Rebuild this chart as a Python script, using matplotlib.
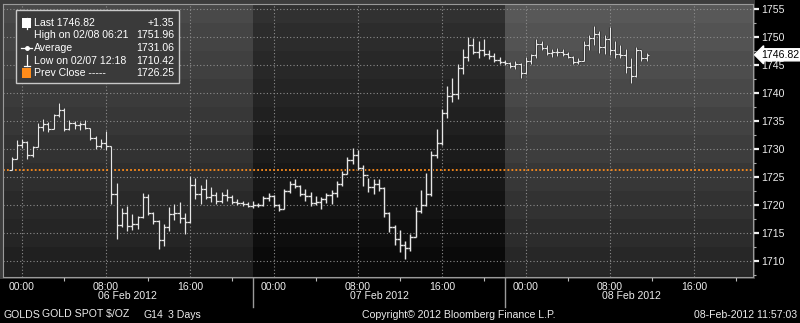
import matplotlib.pyplot as plt
import matplotlib.transforms as mtransforms
import numpy as np
from matplotlib.lines import Line2D
from matplotlib.patches import Rectangle

plt.rcParams['font.family'] = ['Liberation Sans', 'DejaVu Sans']

# GOLDS 30-min bars, hours counted from 06 Feb 2012 00:00
bar_hours = np.arange(-1.0, 59.75, 0.5)
high = [1728.5, 1731.6, 1731.8, 1731.4, 1730.6, 1734.6, 1735.4, 1734.8, 1736.2, 1738.2,
        1737.4, 1735.2, 1735.0, 1734.8, 1735.1, 1733.8, 1732.4, 1731.8, 1733.2, 1730.6,
        1724.0, 1719.5, 1719.8, 1718.4, 1718.0, 1722.1, 1722.0, 1718.8, 1717.4, 1716.6,
        1719.6, 1720.2, 1720.6, 1718.5, 1725.2, 1724.8, 1723.6, 1724.6, 1723.2, 1722.4,
        1722.3, 1722.8, 1721.8, 1721.0, 1720.8, 1720.6, 1720.7, 1720.4, 1721.6, 1722.1,
        1721.8, 1720.2, 1722.8, 1724.3, 1724.6, 1723.6, 1722.8, 1722.3, 1721.6, 1721.4,
        1722.1, 1722.6, 1724.2, 1726.0, 1728.6, 1730.2, 1729.8, 1727.2, 1724.9, 1724.6,
        1724.6, 1723.2, 1718.8, 1716.4, 1715.6, 1713.6, 1714.8, 1719.6, 1722.6, 1725.8,
        1729.6, 1733.6, 1737.2, 1741.2, 1742.6, 1745.2, 1747.8, 1750.0, 1749.8, 1749.3,
        1749.6, 1747.6, 1747.2, 1746.5, 1745.9, 1745.6, 1745.7, 1745.4, 1746.4, 1747.0,
        1749.6, 1749.2, 1748.6, 1747.8, 1748.0, 1747.9, 1747.4, 1746.6, 1746.3, 1749.2,
        1750.4, 1751.96, 1751.0, 1750.4, 1751.8, 1749.3, 1748.6, 1747.8, 1746.2, 1748.2,
        1747.6, 1747.2]
low = [1726.3, 1728.2, 1730.2, 1728.3, 1728.6, 1730.4, 1733.3, 1733.0, 1733.6, 1735.8,
       1733.2, 1733.4, 1733.6, 1733.4, 1733.5, 1731.6, 1730.0, 1730.2, 1729.8, 1720.2,
       1713.9, 1716.0, 1715.4, 1715.6, 1715.8, 1717.6, 1718.2, 1716.6, 1712.1, 1712.6,
       1715.4, 1717.4, 1716.8, 1714.8, 1716.8, 1721.0, 1720.2, 1721.0, 1720.6, 1720.2,
       1720.4, 1720.8, 1720.2, 1720.0, 1719.8, 1719.6, 1719.5, 1719.6, 1719.8, 1720.8,
       1719.6, 1718.9, 1719.2, 1722.2, 1723.0, 1721.6, 1720.8, 1719.8, 1720.0, 1719.3,
       1720.4, 1720.2, 1721.4, 1723.4, 1725.6, 1727.4, 1726.2, 1723.4, 1722.4, 1722.0,
       1722.5, 1717.8, 1715.2, 1712.8, 1711.6, 1710.42, 1711.8, 1714.2, 1718.6, 1719.8,
       1721.6, 1728.4, 1730.8, 1735.6, 1738.4, 1739.0, 1743.4, 1745.8, 1747.0, 1746.3,
       1746.6, 1746.0, 1745.6, 1745.2, 1745.0, 1744.5, 1744.2, 1742.7, 1743.4, 1745.2,
       1746.3, 1747.6, 1746.8, 1746.4, 1746.6, 1746.6, 1746.3, 1745.2, 1745.2, 1745.8,
       1747.6, 1748.6, 1747.2, 1747.0, 1746.8, 1746.3, 1746.3, 1743.6, 1741.8, 1742.8,
       1745.8, 1745.8]
close = [1728.2, 1730.8, 1731.2, 1729.0, 1730.4, 1734.0, 1734.5, 1733.5, 1736.0, 1737.0,
         1733.6, 1734.6, 1734.2, 1734.4, 1733.7, 1732.0, 1730.6, 1731.0, 1730.6, 1722.0,
         1716.5, 1718.5, 1716.2, 1716.6, 1717.8, 1721.5, 1718.6, 1717.2, 1713.8, 1716.0,
         1718.4, 1718.6, 1717.6, 1717.0, 1723.6, 1722.0, 1722.8, 1721.4, 1721.8, 1720.8,
         1721.8, 1721.4, 1720.6, 1720.4, 1720.2, 1719.9, 1720.0, 1720.0, 1721.2, 1721.6,
         1720.0, 1719.2, 1722.5, 1723.8, 1723.4, 1722.0, 1721.6, 1720.4, 1720.6, 1721.0,
         1721.8, 1722.2, 1723.8, 1725.6, 1728.0, 1729.0, 1726.6, 1725.4, 1723.2, 1723.8,
         1723.0, 1718.6, 1716.0, 1714.0, 1712.8, 1712.4, 1714.2, 1719.0, 1720.0, 1722.0,
         1729.0, 1731.0, 1736.5, 1739.5, 1739.8, 1744.5, 1746.5, 1748.5, 1747.4, 1747.6,
         1747.0, 1746.6, 1745.9, 1745.6, 1745.3, 1744.8, 1745.2, 1743.6, 1745.8, 1746.7,
         1748.8, 1748.0, 1747.2, 1747.3, 1747.4, 1747.0, 1746.5, 1745.6, 1745.8, 1748.6,
         1749.8, 1750.6, 1748.2, 1749.6, 1747.6, 1747.0, 1746.8, 1744.6, 1743.0, 1747.6,
         1746.2, 1746.82]

prev_close = 1726.25
last_price = 1746.82

session_starts = [-2.0, 22.0, 46.0]
session_ends = [22.0, 46.0, 70.0]
session_dates = ['06 Feb 2012', '07 Feb 2012', '08 Feb 2012']
# background shade per session (top rgb, bottom rgb)
session_top = [(74, 74, 74), (50, 50, 50), (90, 90, 90)]
session_bottom = [(30, 30, 30), (8, 8, 8), (36, 36, 36)]

time_ticks = np.arange(0, 65, 8)
time_labels = ['00:00', '08:00', '16:00'] * 3
price_ticks = np.arange(1710, 1756, 5)

legend_rows = [('Last 1746.82', '+1.35'),
               ('High on 02/08 06:21', '1751.96'),
               ('Average', '1731.06'),
               ('Low on 02/07 12:18', '1710.42'),
               ('Prev Close -----', '1726.25')]

W, H = 800, 323
FS = 7.6
TXT = '#ececec'


def fx(x):
    return x / W


def fy(y):
    return 1 - y / H


fig = plt.figure(figsize=(8, 3.23), dpi=100, facecolor='black')
fig.add_artist(Rectangle((0, fy(279)), fx(755), 279 / H, transform=fig.transFigure,
                         facecolor='#3c3c3c', edgecolor='none', zorder=-5))
ax = fig.add_axes([fx(3), fy(277), 750 / W, 273 / H])
xmin, xmax = -1.81, 69.62
ymin, ymax = 1707.14, 1755.89

# banded vertical gradients for the three sessions
p = np.linspace(ymin, ymax, 500)
band = np.floor((p - 1707.5) / 5) * 5 + 1710
t = np.clip((band - 1707) / (1756 - 1707), 0, 1)
for s0, s1, top, bot in zip(session_starts, session_ends, session_top, session_bottom):
    top = np.array(top) / 255
    bot = np.array(bot) / 255
    img = (bot[None, :] + (top - bot)[None, :] * t[:, None])[:, None, :]
    ax.imshow(img, extent=[s0, s1, ymin, ymax], origin='lower', aspect='auto',
              interpolation='nearest', zorder=0)

ax.set_xlim(xmin, xmax)
ax.set_ylim(ymin, ymax)
ax.set_facecolor('#202020')

ax.axhline(prev_close, color='#ff8c1a', lw=1.3, linestyle=(0, (1, 1.2)), zorder=2)

opens = [close[0]] + close[:-1]
opens[0] = low[0]
for lw, col, z in [(2.2, '#151515', 2.5), (1.0, '#e6e6e6', 3)]:
    ax.vlines(bar_hours, low, high, color=col, lw=lw, zorder=z)
    ax.hlines(close, bar_hours, bar_hours + 0.25, color=col, lw=lw, zorder=z)
    ax.hlines(opens, bar_hours - 0.25, bar_hours, color=col, lw=lw, zorder=z)

ax.set_xticks(time_ticks)
ax.set_xticklabels(time_labels)
ax.set_xticks(np.arange(4, 69, 8), minor=True)
ax.tick_params(axis='x', which='major', length=0, pad=3.5, labelsize=FS, labelcolor=TXT)
ax.tick_params(axis='x', which='minor', length=3, width=0.8, color='#bbbbbb')

ax.yaxis.tick_right()
ax.set_yticks(price_ticks)
ax.set_yticks(np.arange(1707.5, 1756, 5), minor=True)
ax.tick_params(axis='y', which='major', length=4, width=1.6, color='#f0f0f0', pad=2,
               labelsize=FS, labelcolor=TXT)
ax.tick_params(axis='y', which='minor', length=2.5, width=0.8, color='#aaaaaa')

ax.grid(True, which='major', color='#8c8c8c', linestyle=(0, (1, 2)), linewidth=0.8)
for sp in ax.spines.values():
    sp.set_color('#9a9a9a')
    sp.set_linewidth(0.8)

# last price tag on the price scale
blend_y = mtransforms.blended_transform_factory(ax.transAxes, ax.transData)
ax.text(1.0105, last_price, f'{last_price:.2f}', transform=blend_y, ha='left', va='center',
        fontsize=FS, color='black', zorder=10, clip_on=False,
        bbox=dict(boxstyle='larrow,pad=0.1', fc='white', ec='white'))

# session dates and separators under the axis
blend_x = mtransforms.blended_transform_factory(ax.transData, fig.transFigure)
for s0, s1, lab in zip(session_starts, session_ends, session_dates):
    fig.text((s0 + s1) / 2, fy(296), lab, transform=blend_x, ha='center', va='center',
             fontsize=FS, color=TXT)
for s in session_starts[1:]:
    fig.add_artist(Line2D([s, s], [fy(278), fy(307)], transform=blend_x,
                          color='#9a9a9a', lw=1))

# footer
fy_foot = fy(314.5)
fig.text(fx(3), fy_foot, 'GOLDS', ha='left', va='center', fontsize=FS, color=TXT)
fig.text(fx(42), fy_foot, 'GOLD SPOT $/OZ', ha='left', va='center', fontsize=FS, color=TXT)
fig.text(fx(143), fy_foot, 'G14', ha='left', va='center', fontsize=FS, color=TXT)
fig.text(fx(168), fy_foot, '3 Days', ha='left', va='center', fontsize=FS, color=TXT)
fig.text(fx(362), fy_foot, 'Copyright\u00a9 2012 Bloomberg Finance L.P.', ha='left',
         va='center', fontsize=FS, color=TXT)
fig.text(fx(797), fy_foot, '08-Feb-2012 11:57:03', ha='right', va='center',
         fontsize=FS, color=TXT)

# legend box
fig.add_artist(Rectangle((fx(16), fy(83)), 163 / W, 73 / H, transform=fig.transFigure,
                         facecolor='#3a3a3a', edgecolor='#c8c8c8', lw=1, zorder=5))
row_y = [23, 35.5, 48, 61, 73]
for (left, right), yy in zip(legend_rows, row_y):
    fig.text(fx(34), fy(yy), left, ha='left', va='center', fontsize=FS, color='white', zorder=6)
    fig.text(fx(174), fy(yy), right, ha='right', va='center', fontsize=FS, color='white',
             zorder=6)

fig.add_artist(Rectangle((fx(22), fy(28)), 9 / W, 10 / H, transform=fig.transFigure,
                         facecolor='white', edgecolor='none', zorder=6))
fig.add_artist(Rectangle((fx(22), fy(78)), 9 / W, 10 / H, transform=fig.transFigure,
                         facecolor='#ff8c1a', edgecolor='none', zorder=6))
icon_lines = [([26.5, 26.5], [18, 29]), ([23.5, 29.5], [18.5, 18.5]),
              ([21, 32], [48, 48]),
              ([26.5, 26.5], [55, 66]), ([23.5, 29.5], [65.5, 65.5])]
for xs, ys in icon_lines:
    fig.add_artist(Line2D([fx(v) for v in xs], [fy(v) for v in ys], transform=fig.transFigure,
                          color='white', lw=0.9, zorder=6))
fig.add_artist(Line2D([fx(26.5)], [fy(48)], transform=fig.transFigure, marker='o',
                      markersize=2.5, color='white', zorder=6))

fig.savefig('out.png', dpi=100, facecolor='black')
